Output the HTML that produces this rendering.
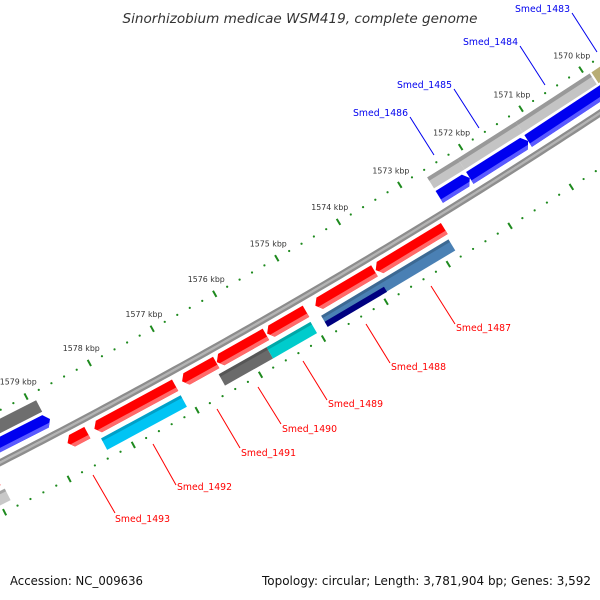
<!DOCTYPE html>
<html><head><meta charset="utf-8"><style>
html,body{margin:0;padding:0;background:#fff;}
svg{display:block;font-family:"DejaVu Sans","Liberation Sans",sans-serif;}
</style></head><body>
<svg id="map" width="600" height="600" viewBox="0 0 600 600" xmlns="http://www.w3.org/2000/svg">
<rect width="600" height="600" fill="#fff"/>
<g id="rings"></g>
<g id="labels"></g>
<text x="300" y="23" text-anchor="middle" font-size="13" font-style="italic" fill="#333" textLength="355" lengthAdjust="spacingAndGlyphs">Sinorhizobium medicae WSM419, complete genome</text>
<text x="10" y="585" font-size="12" fill="#111" textLength="133" lengthAdjust="spacingAndGlyphs">Accession: NC_009636</text>
<text x="591" y="585" text-anchor="end" font-size="12" fill="#111" textLength="329" lengthAdjust="spacingAndGlyphs">Topology: circular; Length: 3,781,904 bp; Genes: 3,592</text>
</svg>
<script>
// ---- data (kbp) ----
const fwdCdsStarts = [1572.12, 1571.16, 1568.5, 1578.85];
const fwdCdsEnds   = [1572.62, 1572.12, 1571.16, 1581.0];
const fwdCogStarts = [1572.12, 1571.16, 1569.93, 1568.5, 1578.9];
const fwdCogEnds   = [1572.62, 1572.12, 1571.16, 1569.9, 1581.0];
const fwdCogColors = ["#c4c4c4", "#c4c4c4", "#c4c4c4", "#b8ad74", "#6e6e6e"];
const revCdsStarts = [1578.48, 1577.10, 1576.45, 1575.66, 1575.02, 1573.92, 1572.79, 1579.88];
const revCdsEnds   = [1578.79, 1578.37, 1576.99, 1576.44, 1575.64, 1574.87, 1573.90, 1581.0];
const revCogStarts = [1577.10, 1575.74, 1575.04, 1572.82, 1579.85];
const revCogEnds   = [1578.35, 1576.50, 1575.74, 1574.87, 1581.0];
const revCogColors = ["#00c4f4", "#6a6a6a", "#00cccc", "#4a80b4", "#c8c8c8"];
const splitStarts = [1573.92];
const splitEnds   = [1574.87];
const splitColors = ["#000080"];
const fwdLabels = ["Smed_1486", "Smed_1485", "Smed_1484", "Smed_1483"];
const revLabels = ["Smed_1487", "Smed_1488", "Smed_1489", "Smed_1490", "Smed_1491", "Smed_1492", "Smed_1493"];
const tickMin = 1568, tickMax = 1581;

// ---- geometry ----
const CX = -2920, CY = -5240;
function ang(k){ return (59.18 + (k - 1574) * 0.645) * Math.PI / 180; }
function P(k, r){ const a = ang(k); return [CX + r * Math.cos(a), CY + r * Math.sin(a)]; }
const NS = "http://www.w3.org/2000/svg";
const rings = document.getElementById('rings');
function el(tag, attrs, parent){ const e = document.createElementNS(NS, tag); for (const k in attrs) e.setAttribute(k, attrs[k]); (parent || rings).appendChild(e); return e; }
function pts(a){ return a.map(p => p[0].toFixed(2) + ',' + p[1].toFixed(2)).join(' '); }
const AL = 0.07;
function shape(s, e, r1, r2, tip){
  const rm = (r1 + r2) / 2;
  if (tip === 'low') return [P(e, r1), P(s + AL, r1), P(s, rm), P(s + AL, r2), P(e, r2)];
  if (tip === 'high') return [P(s, r1), P(e - AL, r1), P(e, rm), P(e - AL, r2), P(s, r2)];
  return [P(s, r1), P(e, r1), P(e, r2), P(s, r2)];
}
function feature(s, e, r1, r2, tip, col, hcol, hr1, hr2, name){
  const g = el('g', {});
  
  
  const a = el('polygon', {points: pts(shape(s, e, r1, r2, tip)), fill: col}, g);
  
  
  if (hcol){
    const b = el('polygon', {points: pts(shape(s, e, hr1, hr2, null).length ? clipBand(s, e, r1, r2, hr1, hr2, tip) : []), fill: hcol}, g);
    
    
  }
}
function clipBand(s, e, r1, r2, h1, h2, tip){
  // band between h1..h2, respecting arrow tip taper
  const rm = (r1 + r2) / 2, half = (r2 - r1) / 2;
  function off(r){ return AL * Math.abs(r - rm) / half; }
  if (tip === 'low') return [P(e, h1), P(s + off(h1), h1), P(s + off(h2), h2), P(e, h2)];
  if (tip === 'high') return [P(s, h1), P(e - off(h1), h1), P(e - off(h2), h2), P(s, h2)];
  return [P(s, h1), P(e, h1), P(e, h2), P(s, h2)];
}
function arcPath(r){ let d = ''; for (let k = tickMin; k <= tickMax + 0.001; k += 0.1){ const p = P(k, r); d += (d ? 'L' : 'M') + p[0].toFixed(2) + ',' + p[1].toFixed(2); } return d; }

// backbone
[[6404.5, '#8c8c8c'], [6406.8, '#b4b4b4'], [6409, '#8e8e8e']].forEach((b, i) => {
  const p = el('path', {d: arcPath(b[0]), stroke: b[1], 'stroke-width': 2.4, fill: 'none'});
  
  
});

// rulers
[6360, 6453].forEach((R, ri) => {
  for (let i = 0; tickMin + i * 0.2 <= tickMax + 1e-6; i++){
    const k = tickMin + i * 0.2;
    if (i % 5 === 0){
      const a = P(k, R - 3.5), b = P(k, R + 3.5);
      const t = el('line', {x1: a[0], y1: a[1], x2: b[0], y2: b[1], stroke: '#1e8a1e', 'stroke-width': 2});
      
      
      if (ri === 0){
        const lp = P(k, 6343);
        const tx = el('text', {x: lp[0].toFixed(1), y: (lp[1] + 3).toFixed(1), 'text-anchor': 'middle', 'font-size': 8, fill: '#333', textLength: 37, lengthAdjust: 'spacingAndGlyphs'});
        tx.textContent = Math.round(k) + ' kbp';
        
        
      }
    } else {
      const c = P(k, R);
      const d = el('circle', {cx: c[0], cy: c[1], r: 1.1, fill: '#1e8a1e'});
      
      
    }
  }
});

// forward COG ring
fwdCogStarts.forEach((s, i) => feature(s, fwdCogEnds[i], 6368, 6381, null, fwdCogColors[i], i < 3 ? '#999' : null, 6368, 6372, 'forward-cog-' + i));
// forward CDS
fwdCdsStarts.forEach((s, i) => feature(s, fwdCdsEnds[i], 6384, 6398, 'low', '#0000f0', '#5a5aff', 6394, 6398, 'forward-cds-' + i));
// reverse CDS
revCdsStarts.forEach((s, i) => feature(s, revCdsEnds[i], 6414, 6427, 'high', '#ff0000', '#ff6a6a', 6423, 6427, 'reverse-cds-' + i));
// reverse COG
revCogStarts.forEach((s, i) => feature(s, revCogEnds[i], 6432, 6445, null, revCogColors[i], 'rgba(0,0,0,0.18)', 6432, 6435, 'reverse-cog-' + i));
splitStarts.forEach((s, i) => feature(s, splitEnds[i], 6439, 6445, null, splitColors[i], null, 0, 0, 'reverse-cog-split-' + i));

// labels
const lab = document.getElementById('labels');
const fwdLine = [[410,117,434,155],[454,89,479,128],[520,46,545,85],[572,13,597,52]];
const fwdText = [[353,116],[397,88],[463,45],[515,12]];
fwdLabels.forEach((t, i) => {
  const l = el('line', {x1: fwdLine[i][0], y1: fwdLine[i][1], x2: fwdLine[i][2], y2: fwdLine[i][3], stroke: '#0000ee', 'stroke-width': 1}, lab);
  
  
  const x = el('text', {x: fwdText[i][0], y: fwdText[i][1], 'font-size': 9.5, fill: '#0000ee', textLength: 55, lengthAdjust: 'spacingAndGlyphs'}, lab);
  x.textContent = t;
  
  
});
const revLine = [[431,286,455,324],[366,324,390,363],[303,361,327,400],[258,387,281,424],[217,409,240,448],[153,444,176,485],[93,475,115,513]];
const revText = [[456,331],[391,370],[328,407],[282,432],[241,456],[177,490],[115,522]];
revLabels.forEach((t, i) => {
  const l = el('line', {x1: revLine[i][0], y1: revLine[i][1], x2: revLine[i][2], y2: revLine[i][3], stroke: '#ff0000', 'stroke-width': 1}, lab);
  
  
  const x = el('text', {x: revText[i][0], y: revText[i][1], 'font-size': 9.5, fill: '#ff0000', textLength: 55, lengthAdjust: 'spacingAndGlyphs'}, lab);
  x.textContent = t;
  
  
});
</script>
</body></html>
